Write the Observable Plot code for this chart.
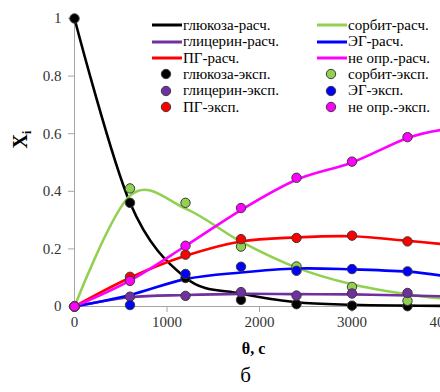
<!DOCTYPE html>
<html>
<head>
<meta charset="utf-8">
<script src="https://cdn.jsdelivr.net/npm/d3@7"></script>
<script src="https://cdn.jsdelivr.net/npm/@observablehq/plot@0.6"></script>
<style>
  html, body { margin: 0; padding: 0; background: #fff; overflow: hidden; }
  #chart { position: relative; width: 440px; height: 392px; overflow: hidden; }
  #chart svg.plot { display: block; max-width: none !important; width: 460px; height: 392px; }
  .legend { position: absolute; left: 152px; top: 17px; font-family: "Liberation Serif", "Times New Roman", Tinos, "DejaVu Serif", serif; font-size: 15px; color: #000; }
  .legend .item { position: absolute; display: flex; align-items: center; height: 16.4px; white-space: nowrap; }
  .legend svg { flex: none; margin-right: 1px; }
</style>
</head>
<body>
<div id="chart"></div>
<script>
// Sampling times, s
const expTimes = [0, 600, 1200, 1800, 2400, 3000, 3600];
const calcTimes = [0, 600, 1200, 1800, 2400, 3000, 3600, 4000];

// Components (draw order) and their colours
const components = ["глюкоза", "сорбит", "глицерин", "ЭГ", "ПГ", "не опр."];
const colors = ["#000000", "#92D050", "#7030A0", "#0000FF", "#FF0000", "#FF00FF"];

// Calculated mole fractions
const glucoseCalc  = [1.000, 0.360, 0.100, 0.045, 0.015, 0.006, 0.003, 0.002];
const sorbitCalc   = [0.000, 0.385, 0.340, 0.225, 0.135, 0.077, 0.042, 0.027];
const glycerolCalc = [0.000, 0.032, 0.040, 0.044, 0.043, 0.042, 0.038, 0.035];
const egCalc       = [0.000, 0.040, 0.095, 0.118, 0.132, 0.129, 0.121, 0.106];
const pgCalc       = [0.000, 0.100, 0.176, 0.226, 0.240, 0.244, 0.228, 0.216];
const unknownCalc  = [0.000, 0.090, 0.210, 0.335, 0.440, 0.500, 0.585, 0.615];

// Experimental mole fractions
const glucoseExp  = [1.000, 0.360, 0.099, 0.023, 0.008, 0.003, 0.001];
const sorbitExp   = [0.000, 0.410, 0.360, 0.208, 0.139, 0.068, 0.020];
const glycerolExp = [0.000, 0.034, 0.037, 0.050, 0.038, 0.045, 0.047];
const egExp       = [0.000, 0.005, 0.113, 0.138, 0.124, 0.130, 0.122];
const pgExp       = [0.000, 0.103, 0.180, 0.234, 0.238, 0.246, 0.226];
const unknownExp  = [0.000, 0.089, 0.211, 0.342, 0.447, 0.503, 0.588];

// Axis ticks and texts
const xTicks = [0, 1000, 2000, 3000, 4000];
const yTicks = [0, 0.2, 0.4, 0.6, 0.8, 1];
const xLabel = "θ, с";
const yLabel = "X";
const yLabelSub = "i";
const panelLabel = "б";
const calcSuffix = "-расч.";
const expSuffix = "-эксп.";

const calcSeries = [glucoseCalc, sorbitCalc, glycerolCalc, egCalc, pgCalc, unknownCalc];
const expSeries = [glucoseExp, sorbitExp, glycerolExp, egExp, pgExp, unknownExp];

const calcRows = calcSeries.flatMap((vals, i) => vals.map((v, j) => ({t: calcTimes[j], v, s: components[i]})));
const expRows = expSeries.flatMap((vals, i) => vals.map((v, j) => ({t: expTimes[j], v, s: components[i]})));

const serif = "'Liberation Serif', 'Times New Roman', Tinos, 'DejaVu Serif', serif";

const chart = Plot.plot({
  width: 460,
  height: 392,
  marginLeft: 74,
  marginRight: 16,
  marginTop: 18,
  marginBottom: 86,
  style: {fontFamily: serif, fontSize: "15px", background: "#fff", overflow: "visible"},
  x: {domain: [0, 4000]},
  y: {domain: [0, 1]},
  color: {domain: components, range: colors},
  marks: [
    Plot.ruleX([0], {stroke: "#a6a6a6", strokeWidth: 1}),
    Plot.ruleY([0], {stroke: "#a6a6a6", strokeWidth: 1}),
    Plot.axisX({ticks: xTicks, tickFormat: d => String(d), tickSize: 6, tickPadding: 4, stroke: "#a6a6a6", fill: "#333", label: null}),
    Plot.axisY({ticks: yTicks, tickFormat: d => String(d), tickSize: 6, tickPadding: 7, stroke: "#a6a6a6", fill: "#333", label: null}),
    Plot.line(calcRows, {x: "t", y: "v", z: "s", stroke: "s", strokeWidth: 2.6, curve: "cardinal"}),
    Plot.dot(expRows, {x: "t", y: "v", fill: "s", r: 4.7, stroke: "#3a3a3a", strokeWidth: 1}),
    Plot.text([xLabel], {frameAnchor: "bottom", dy: 47, dx: -6, fontWeight: "bold", fontSize: 16, fill: "#000"}),
    Plot.text([panelLabel], {frameAnchor: "bottom", dy: 75, dx: -14, fontSize: 21, fill: "#000"}),
    Plot.text([yLabel + yLabelSub], {frameAnchor: "left", dx: -54, dy: -14, rotate: -90, fontWeight: "bold", fontSize: 20, fill: "#000"})
  ]
});
chart.setAttribute("class", (chart.getAttribute("class") || "") + " plot");

// subscript for the y label
d3.select(chart).selectAll("text")
  .filter(function () { return this.textContent === yLabel + yLabelSub; })
  .each(function () {
    const t = d3.select(this);
    t.text(null);
    t.append("tspan").text(yLabel);
    t.append("tspan").attr("font-size", 12).attr("dy", "0.35em").text(yLabelSub);
  });

const root = document.getElementById("chart");
root.appendChild(chart);

// Legend: two columns, lines for calculated and dots for experimental series
const legend = document.createElement("div");
legend.className = "legend";
const colGroups = [[0, 2, 4], [1, 3, 5]];
const colLeft = [0, 165];
colGroups.forEach((group, c) => {
  const items = [
    ...group.map(i => ({i, kind: "calc"})),
    ...group.map(i => ({i, kind: "exp"}))
  ];
  items.forEach((it, r) => {
    const div = document.createElement("div");
    div.className = "item";
    div.style.left = colLeft[c] + "px";
    div.style.top = (r * 16.4) + "px";
    const w = 30;
    const sw = d3.create("svg").attr("width", w).attr("height", 12);
    if (it.kind === "calc") {
      sw.append("line").attr("x1", 0).attr("x2", w).attr("y1", 6).attr("y2", 6)
        .attr("stroke", colors[it.i]).attr("stroke-width", 3);
    } else {
      sw.append("circle").attr("cx", 14).attr("cy", 6).attr("r", 4.7)
        .attr("fill", colors[it.i]).attr("stroke", "#3a3a3a").attr("stroke-width", 1);
    }
    div.appendChild(sw.node());
    const span = document.createElement("span");
    span.textContent = components[it.i] + (it.kind === "calc" ? calcSuffix : expSuffix);
    div.appendChild(span);
    legend.appendChild(div);
  });
});
root.appendChild(legend);
</script>
</body>
</html>
